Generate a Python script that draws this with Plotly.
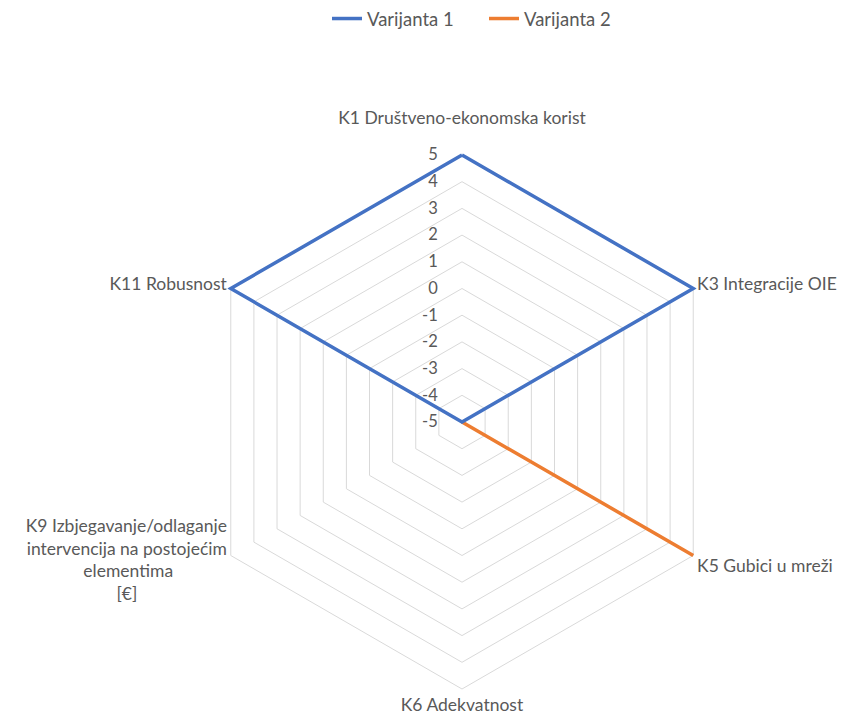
import plotly.graph_objects as go

NB = "\u00a0"
categories = [
    "K1 Društveno-ekonomska korist<br><sup>" + NB + "</sup>",
    "K3 Integracije OIE",
    "K5 Gubici u mreži",
    "K6 Adekvatnost",
    "K9 Izbjegavanje/odlaganje<br>intervencija na postojećim<br>elementima" + NB * 12
    + "<br>[€]" + NB * 20 + ("<br>" + NB) * 4,
    "K11 Robusnost",
]
varijanta_1 = [5, 5, -5, -5, -5, 5]
varijanta_2 = [-5, -5, 5, -5, -5, -5]
radial_ticks = [-5, -4, -3, -2, -1, 0, 1, 2, 3, 4, 5]
radial_ticktext = [str(v) for v in radial_ticks]

W, H = 845, 720
cx, cy = 462, 422
R_MAX = 5.15
R = 267 * (R_MAX + 5) / 10

fig = go.Figure()
fig.add_trace(go.Scatterpolar(
    r=varijanta_2 + [varijanta_2[0]], theta=categories + [categories[0]],
    mode="lines", name="Varijanta 2",
    line=dict(color="#ED7D31", width=3.5), cliponaxis=False,
))
fig.add_trace(go.Scatterpolar(
    r=varijanta_1 + [varijanta_1[0]], theta=categories + [categories[0]],
    mode="lines", name="Varijanta 1",
    line=dict(color="#4472C4", width=3.5), cliponaxis=False,
))

font = dict(family="Lato, Open Sans, sans-serif", size=17.5, color="#595959")
tfont = dict(family="Lato, Open Sans, sans-serif", size=16.5, color="#595959")
lfont = dict(family="Lato, Open Sans, sans-serif", size=18.5, color="#595959")

fig.update_layout(
    width=W, height=H,
    margin=dict(l=0, r=0, t=0, b=0),
    paper_bgcolor="white", plot_bgcolor="white",
    font=font,
    showlegend=True,
    legend=dict(orientation="h", x=0.387, xanchor="left", y=1.0, yanchor="top",
                traceorder="reversed", font=lfont, entrywidth=112, entrywidthmode="pixels"),
    polar=dict(
        domain=dict(x=[(cx - R) / W, (cx + R) / W], y=[1 - (cy + R) / H, 1 - (cy - R) / H]),
        gridshape="linear",
        bgcolor="white",
        radialaxis=dict(
            range=[-5, R_MAX], tickvals=radial_ticks, ticktext=radial_ticktext,
            angle=90, side="counterclockwise",
            tickangle=90, showline=False, ticks="outside", ticklen=18,
            tickcolor="rgba(0,0,0,0)", gridcolor="#D9D9D9", gridwidth=1,
            tickfont=tfont, layer="below traces",
        ),
        angularaxis=dict(
            direction="clockwise", rotation=90, showline=False, showgrid=False,
            ticks="", tickfont=font, layer="below traces",
        ),
    ),
)

fig.write_html("out.html", config={"displayModeBar": False},
               post_script="document.body.style.margin='0';")
